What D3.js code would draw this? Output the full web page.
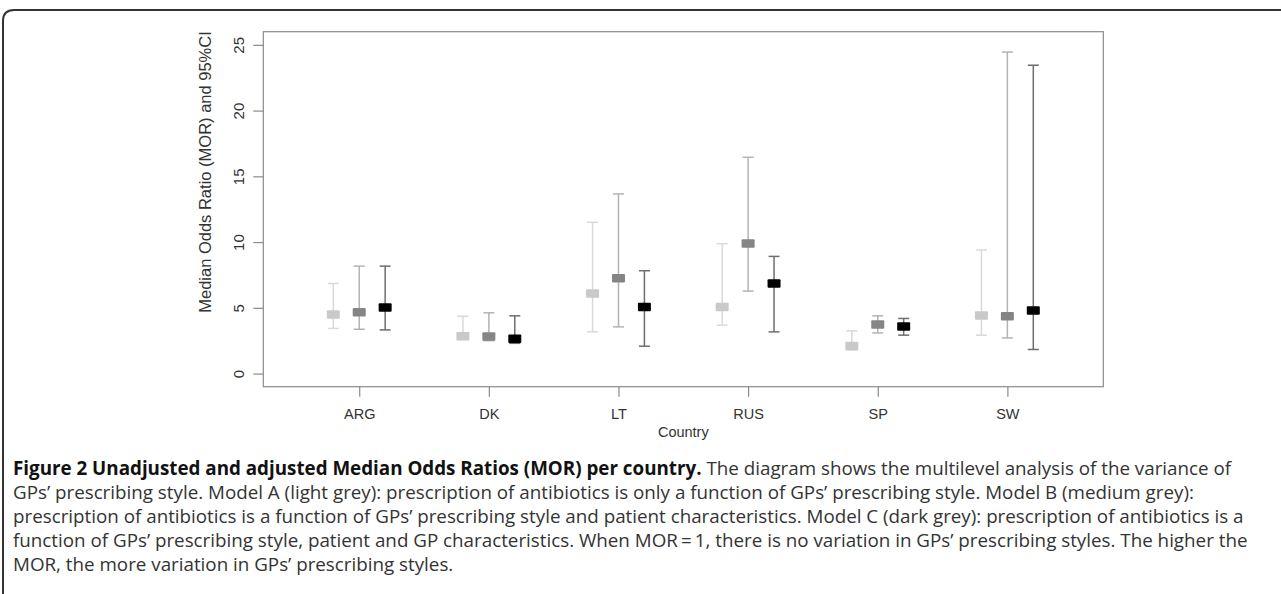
<!DOCTYPE html>
<html>
<head>
<meta charset="utf-8">
<script src="https://cdn.jsdelivr.net/npm/d3@7"></script>
<style>
  body { margin: 0; background: #fff; }
  svg { display: block; }
</style>
</head>
<body>
<svg id="fig"></svg>
<script>
// countries on the x axis
var countries = ["ARG", "DK", "LT", "RUS", "SP", "SW"];

// Model A (light grey): MOR and 95% CI
var modelA_mor  = [4.49, 2.84, 6.09, 5.07, 2.10, 4.42];
var modelA_low  = [3.43, 2.60, 3.17, 3.68, 1.80, 2.92];
var modelA_high = [6.85, 4.36, 11.50, 9.87, 3.25, 9.39];

// Model B (medium grey)
var modelB_mor  = [4.67, 2.82, 7.24, 9.90, 3.73, 4.36];
var modelB_low  = [3.37, 2.50, 3.55, 6.27, 3.09, 2.71];
var modelB_high = [8.17, 4.62, 13.66, 16.45, 4.39, 24.45];

// Model C (dark grey)
var modelC_mor  = [5.03, 2.64, 5.07, 6.85, 3.58, 4.80];
var modelC_low  = [3.32, 2.30, 2.08, 3.17, 2.92, 1.83];
var modelC_high = [8.17, 4.39, 7.82, 8.91, 4.19, 23.45];

var yTicks = [0, 5, 10, 15, 20, 25];

var captionBold = "Figure 2 Unadjusted and adjusted Median Odds Ratios (MOR) per country.";
var captionLines = [
  " The diagram shows the multilevel analysis of the variance of",
  "GPs\u2019 prescribing style. Model A (light grey): prescription of antibiotics is only a function of GPs\u2019 prescribing style. Model B (medium grey):",
  "prescription of antibiotics is a function of GPs\u2019 prescribing style and patient characteristics. Model C (dark grey): prescription of antibiotics is a",
  "function of GPs\u2019 prescribing style, patient and GP characteristics. When MOR\u2009=\u20091, there is no variation in GPs\u2019 prescribing styles. The higher the",
  "MOR, the more variation in GPs\u2019 prescribing styles."
];

var screen = {width: 1281, height: 594};
var plot = {left: 263.3, right: 1103.3, top: 31.7, bottom: 386.7};

var svg = d3.select("#fig")
  .attr("width", screen.width)
  .attr("height", screen.height);

// outer figure frame (top + left, rounded corner)
svg.append("path")
  .attr("d", "M1281,10 H14 Q3,10 3,21 V594")
  .attr("fill", "none")
  .attr("stroke", "#333")
  .attr("stroke-width", 2);

var x = d3.scaleLinear().domain([0.26, 6.74]).range([plot.left, plot.right]);
var y = d3.scaleLinear().domain([-1, 26]).range([plot.bottom, plot.top]);

// plot box
svg.append("rect")
  .attr("x", plot.left).attr("y", plot.top)
  .attr("width", plot.right - plot.left)
  .attr("height", plot.bottom - plot.top)
  .attr("fill", "none")
  .attr("stroke", "#8a8a8a")
  .attr("stroke-width", 1.2);

// y axis
var yAxis = d3.axisLeft(y).tickValues(yTicks).tickSize(10).tickPadding(6);
var gy = svg.append("g")
  .attr("transform", "translate(" + plot.left + ",0)")
  .call(yAxis);
gy.select(".domain").remove();
gy.selectAll(".tick line").attr("stroke", "#8a8a8a").attr("stroke-width", 1.2);
gy.selectAll(".tick text")
  .attr("x", -23)
  .attr("y", 0)
  .attr("dy", null)
  .attr("transform", "rotate(-90,-23,0)")
  .attr("text-anchor", "middle")
  .attr("dominant-baseline", "middle")
  .style("font-family", "Liberation Sans, Arial, sans-serif")
  .style("font-size", "15px")
  .attr("fill", "#333");

// x axis
var xAxis = d3.axisBottom(x).tickValues(d3.range(1, countries.length + 1))
  .tickFormat(function(d) { return countries[d - 1]; })
  .tickSize(10).tickPadding(12);
var gx = svg.append("g")
  .attr("transform", "translate(0," + plot.bottom + ")")
  .call(xAxis);
gx.select(".domain").remove();
gx.selectAll(".tick line").attr("stroke", "#8a8a8a").attr("stroke-width", 1.2);
gx.selectAll(".tick text")
  .style("font-family", "Liberation Sans, Arial, sans-serif")
  .style("font-size", "14.5px")
  .attr("fill", "#333");

// axis titles
svg.append("text")
  .attr("x", (plot.left + plot.right) / 2)
  .attr("y", 433)
  .attr("text-anchor", "middle")
  .attr("dominant-baseline", "middle")
  .style("font-family", "Liberation Sans, Arial, sans-serif")
  .style("font-size", "14.5px")
  .attr("fill", "#333")
  .text("Country");

svg.append("text")
  .attr("transform", "translate(207,172) rotate(-90)")
  .attr("text-anchor", "middle")
  .attr("dominant-baseline", "middle")
  .style("font-family", "Liberation Sans, Arial, sans-serif")
  .style("font-size", "16.5px")
  .attr("fill", "#333")
  .text("Median Odds Ratio (MOR) and 95%CI");

// series
var models = [
  {mor: modelA_mor, low: modelA_low, high: modelA_high, off: -0.2, box: "#c9c9c9", line: "#d9d9d9"},
  {mor: modelB_mor, low: modelB_low, high: modelB_high, off: 0,    box: "#858585", line: "#b3b3b3"},
  {mor: modelC_mor, low: modelC_low, high: modelC_high, off: 0.2,  box: "#000000", line: "#6e6e6e"}
];

var capW = 11, boxW = 13, boxH = 8.5;

models.forEach(function(m) {
  var g = svg.append("g");
  var rows = countries.map(function(c, i) {
    return {pos: i + 1 + m.off, mor: m.mor[i], low: m.low[i], high: m.high[i]};
  });
  var bars = g.selectAll("g.bar").data(rows).enter().append("g").attr("class", "bar");
  bars.append("line")
    .attr("x1", function(d) { return x(d.pos); })
    .attr("x2", function(d) { return x(d.pos); })
    .attr("y1", function(d) { return y(d.low); })
    .attr("y2", function(d) { return y(d.high); })
    .attr("stroke", m.line).attr("stroke-width", 1.5);
  ["low", "high"].forEach(function(k) {
    bars.append("line")
      .attr("x1", function(d) { return x(d.pos) - capW / 2; })
      .attr("x2", function(d) { return x(d.pos) + capW / 2; })
      .attr("y1", function(d) { return y(d[k]); })
      .attr("y2", function(d) { return y(d[k]); })
      .attr("stroke", m.line).attr("stroke-width", 1.5);
  });
  bars.append("rect")
    .attr("x", function(d) { return x(d.pos) - boxW / 2; })
    .attr("y", function(d) { return y(d.mor) - boxH / 2; })
    .attr("width", boxW).attr("height", boxH)
    .attr("rx", 1)
    .attr("fill", m.box);
});

// caption
var cap = svg.append("g")
  .style("font-family", "Open Sans, Noto Sans, sans-serif")
  .style("font-size", "18.8px");
var lineY = [470, 494, 518, 542, 566];
captionLines.forEach(function(t, i) {
  var tx = cap.append("text")
    .attr("x", 13)
    .attr("y", lineY[i])
    .attr("dominant-baseline", "middle")
    .attr("fill", "#333");
  if (i === 0) {
    tx.append("tspan").attr("font-weight", "bold").attr("fill", "#111").text(captionBold);
  }
  tx.append("tspan").text(t);
});
</script>
</body>
</html>
